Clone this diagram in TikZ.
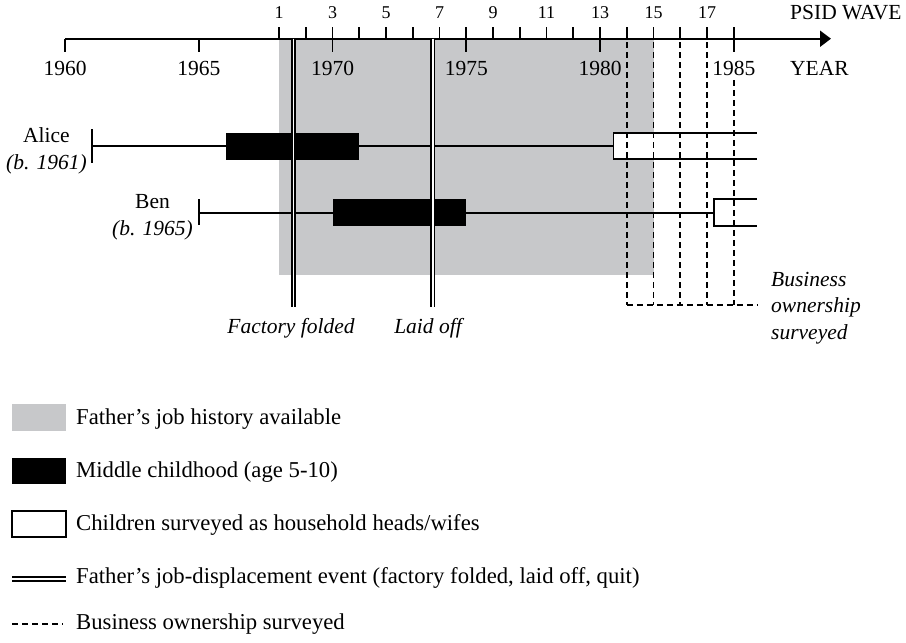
\documentclass[tikz,border=0pt]{standalone}
\usepackage{fontspec}
\setmainfont{Liberation Serif}
\usetikzlibrary{arrows.meta}

\definecolor{histgray}{RGB}{199,200,202}
\newcommand{\yearx}[1]{65+26.75*(#1-1960)}

\begin{document}
\begin{tikzpicture}[x=1pt,y=-1pt,
    lbl/.style={font=\fontsize{21.5}{26.7}\selectfont,inner sep=0pt},
    itlbl/.style={font=\fontsize{21.5}{26.7}\selectfont\itshape,inner sep=0pt},
    leglbl/.style={font=\fontsize{22.7}{26.7}\selectfont,inner sep=0pt,anchor=west},
    wavelbl/.style={font=\fontsize{18}{20}\selectfont,inner sep=0pt},
    tick/.style={line width=1.7pt},
    life/.style={line width=1.7pt},
    event/.style={double,line width=1.8pt,double distance=1.5pt},
    survey/.style={line width=1.7pt,dash pattern=on 6pt off 4pt},
    childbar/.style={fill=black},
    headbox/.style={fill=white,draw=black,line width=1.7pt}]
    \useasboundingbox (0,0) rectangle (906,643);

    \coordinate (AxisStart) at (65,38.7);
    \coordinate (AxisEnd) at (831,38.7);

    \fill[histgray] ({\yearx{1968}},38.7) rectangle ({\yearx{1982}},275);

    \draw [line width=1.9pt,-{Triangle[length=11pt,width=16pt]}] (AxisStart)
        -- (AxisEnd);
    \foreach \w in {1,...,18}
        \draw[tick] ({\yearx{1967+\w}},38.7) -- ++(0,-12);
    \foreach \w in {1,3,...,17}
        \node[wavelbl] (wave\w) at ({\yearx{1967+\w}},13) {\w};
    \foreach \y in {1960,1965,...,1985} {
        \draw[tick] ({\yearx{\y}},38.7) -- ++(0,13);
        \node[lbl] (year\y) at ({\yearx{\y}},68) {\y};
    }
    \node[lbl,anchor=west] (wavetitle) at (790,13) {PSID WAVE};
    \node[lbl,anchor=west] (yeartitle) at (790,68) {YEAR};

    % Alice
    \coordinate (AliceBirth) at ({\yearx{1961}},146);
    \coordinate (AliceHead) at ({\yearx{1980.5}},146);
    \node[lbl,align=center,anchor=east] (alice) at (87,150.5)
        {Alice\\\textit{(b. 1961)}};
    \draw[life] (AliceBirth) -- (AliceHead);
    \draw[life] (AliceBirth) ++(0,-17) -- ++(0,33.5);
    \fill[childbar] ({\yearx{1966}},132.7) rectangle ({\yearx{1971}},160);
    \filldraw[headbox] (756.7,132.7) -| (AliceHead) |- (756.7,159.3);

    % Ben
    \coordinate (BenBirth) at ({\yearx{1965}},212.7);
    \coordinate (BenHead) at ({\yearx{1984.25}},212.7);
    \node[lbl,align=center,anchor=east] (ben) at (193,217.5)
        {Ben\\\textit{(b. 1965)}};
    \draw[life] (BenBirth) -- (BenHead);
    \draw[life] (BenBirth) ++(0,-13.4) -- ++(0,25.7);
    \fill[childbar] ({\yearx{1970}},199.3) rectangle ({\yearx{1975}},226);
    \filldraw[headbox] (756.7,199.3) -| (BenHead) |- (756.7,226);

    % business ownership waves
    \foreach \y in {1981,...,1984}
        \draw[survey] ({\yearx{\y}},42) -- ({\yearx{\y}},305);
    \draw[survey] ({\yearx{1985}},80) -- ({\yearx{1985}},305);
    \draw[survey] ({\yearx{1981}},305) -- (757,305);
    \node[itlbl,align=left,anchor=west] (bizlbl) at (771,308)
        {Business\\ownership\\surveyed};

    % displacement events
    \node[itlbl] (folded) at (291,328) {Factory folded};
    \node[itlbl] (laidoff) at (428,328) {Laid off};
    \draw[event] ({\yearx{1968.55}},38.7) -- ({\yearx{1968.55}},306.7);
    \draw[event] ({\yearx{1973.75}},38.7) -- ({\yearx{1973.75}},306.7);

    % legend
    \fill[histgray] (12,404.3) rectangle (65.7,430.7);
    \node[leglbl] (leghist) at (76,419)
        {Father's job history available};
    \fill[childbar] (12,457.7) rectangle (65.7,484.3);
    \node[leglbl] (legchild) at (76,472)
        {Middle childhood (age 5-10)};
    \draw[headbox] (12,510.7) rectangle (65.7,537.3);
    \node[leglbl] (leghead) at (76,525)
        {Children surveyed as household heads/wifes};
    \draw[event] (12,579) -- (65.7,579);
    \node[leglbl] (legevent) at (76,578)
        {Father's job-displacement event (factory folded, laid off, quit)};
    \draw[survey] (12,624) -- (63,624);
    \node[leglbl] (legsurvey) at (76,624)
        {Business ownership surveyed};
\end{tikzpicture}
\end{document}
